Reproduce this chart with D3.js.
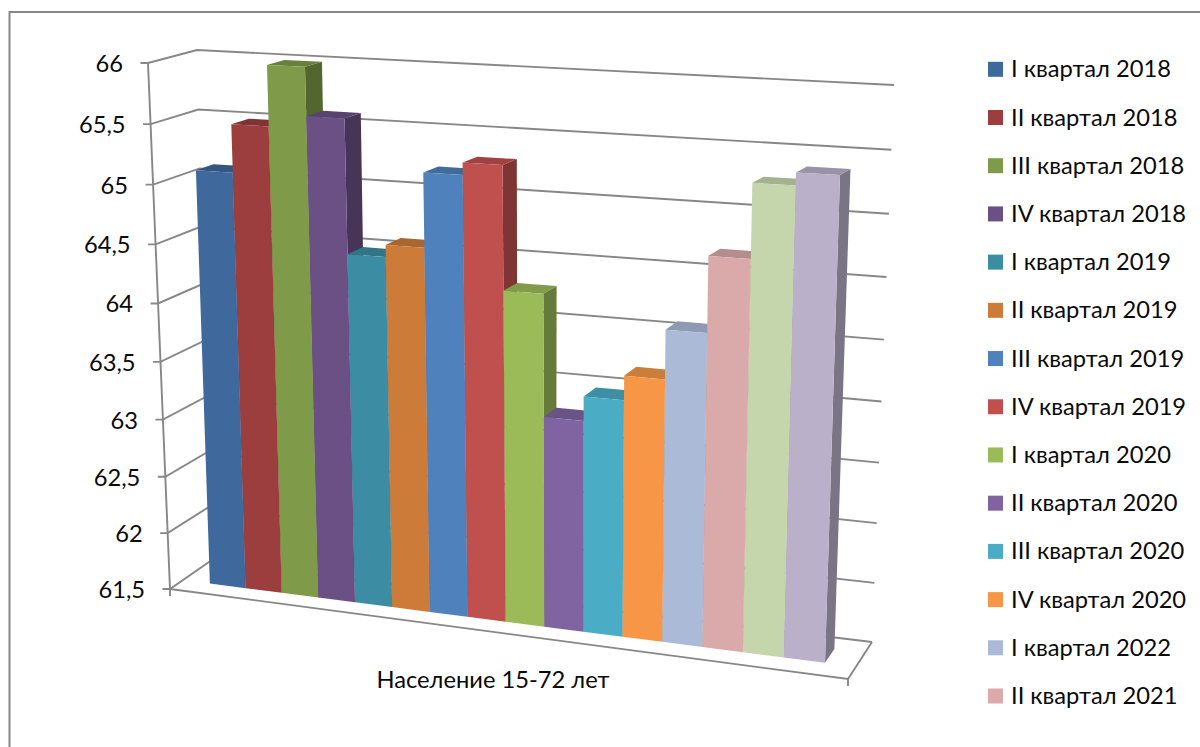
<!DOCTYPE html>
<html>
<head>
<meta charset="utf-8">
<script src="https://cdn.jsdelivr.net/npm/d3@7"></script>
<style>
	html, body { margin: 0; padding: 0; background: #fff; overflow: hidden; }
	text { font-family: Lato, "Open Sans", sans-serif; font-size: 23.7px; fill: #0a0a0a; }
</style>
</head>
<body>
<div id="chart"></div>
<script>
// values
const values = [65.09, 65.49, 65.99, 65.59, 64.48, 64.58, 65.19, 65.29, 64.28, 63.27, 63.47, 63.67, 64.07, 64.68, 65.27, 65.37];
const colors = ["#3F689C", "#9C3E3D", "#7F9A48", "#6A5084", "#3C8DA3", "#CC7B38", "#4F81BD", "#C0504D",
	"#9BBB59", "#8064A2", "#4BACC6", "#F79646", "#AABAD7", "#D9AAA9", "#C6D6AC", "#BAB0C9"];
// only 14 legend rows fit in the picture, the last two bars have none
const legendLabels = ["I квартал 2018", "II квартал 2018", "III квартал 2018", "IV квартал 2018",
	"I квартал 2019", "II квартал 2019", "III квартал 2019", "IV квартал 2019",
	"I квартал 2020", "II квартал 2020", "III квартал 2020", "IV квартал 2020",
	"I квартал 2022", "II квартал 2021"];
const valueTicks = [61.5, 62, 62.5, 63, 63.5, 64, 64.5, 65, 65.5, 66];
const categoryLabel = "Население 15-72 лет";

const width = 1200;
const height = 747;

// corners of the 3d box on screen, [x, y]
const box = {
	floorFrontLeft: [170, 589],
	floorFrontRight: [848, 679],
	floorBackLeft: [209, 562],
	floorBackRight: [872, 642],
	topFrontLeft: [148, 63],
	topFrontRight: [867, 97],
	topBackLeft: [197, 50],
	topBackRight: [894, 85]
};

const svg = d3.select("#chart").append("svg").attr("width", width).attr("height", height);

const valueScale = d3.scaleLinear().domain([61.5, 66]).range([0, 1]);
const barScale = d3.scaleBand().domain(d3.range(values.length)).range([0.0435, 0.9576]);
const depthScale = d3.scaleLinear().domain([0, 1]).range([0.33, 0.71]);

// foreshortening along an edge
const perspective = (k) => (t) => (t * (1 + k)) / (1 + t * k);
const persY = perspective(-0.05);

const mix = (a, b, t) => [a[0] + (b[0] - a[0]) * t, a[1] + (b[1] - a[1]) * t];

// x, y, z all 0..1
const project = (x, y, z) => {
	const py = persY(y);
	// the horizontal squeeze gets a bit stronger higher up
	const px = perspective(-0.08 - 0.019 * py)(x);
	const floorFront = mix(box.floorFrontLeft, box.floorFrontRight, px);
	const floorBack = mix(box.floorBackLeft, box.floorBackRight, px);
	const topFront = mix(box.topFrontLeft, box.topFrontRight, px);
	const topBack = mix(box.topBackLeft, box.topBackRight, px);
	return mix(mix(floorFront, floorBack, z), mix(topFront, topBack, z), py);
};

const line = d3.line();
const poly = d3.line().curve(d3.curveLinearClosed);
const gridColor = "#878787";

// chart frame, runs off the page on the right and bottom
svg.append("path")
	.attr("d", line([[width + 5, 12], [9.5, 12], [9.5, height + 5]]))
	.attr("fill", "none")
	.attr("stroke", gridColor)
	.attr("stroke-width", 2);

// walls
const grid = svg.append("g").attr("fill", "none").attr("stroke", gridColor).attr("stroke-width", 1.9);
valueTicks.forEach((v) => {
	const t = valueScale(v);
	const front = project(0, t, 0);
	grid.append("path").attr("d", line([[front[0] - 7.5, front[1]], front, project(0, t, 1), project(1, t, 1)]));
});
grid.append("path").attr("d", line([project(0, 0, 0), project(0, 1, 0)]));
grid.append("path").attr("d", line([project(0, 0, 0), project(1, 0, 0), project(1, 0, 1)]));
[0, 1].forEach((x) => {
	const p = project(x, 0, 0);
	grid.append("path").attr("d", line([p, [p[0], p[1] + 7]]));
});

// tick labels
svg.append("g")
	.selectAll("text")
	.data(valueTicks)
	.join("text")
	.attr("x", (v) => project(0, valueScale(v), 0)[0] - 25)
	.attr("y", (v) => project(0, valueScale(v), 0)[1] + 3)
	.attr("text-anchor", "end")
	.attr("dominant-baseline", "middle")
	.text((v) => String(v).replace(".", ","));

// bars, left to right so the next front covers the previous side
const shade = (c, k) => {
	const col = d3.rgb(c);
	return d3.rgb(col.r * k, col.g * k, col.b * k).formatHex();
};
const bars = svg.append("g")
	.selectAll("g")
	.data(values)
	.join("g");

const z0 = depthScale(0);
const z1 = depthScale(1);
const left = (i) => barScale(i);
const right = (i) => barScale(i) + barScale.bandwidth();

bars.append("path")
	.attr("fill", (d, i) => shade(colors[i], 0.66))
	.attr("d", (d, i) => {
		const t = valueScale(d);
		return poly([project(right(i), 0, z0), project(right(i), t, z0), project(right(i), t, z1), project(right(i), 0, z1)]);
	});
bars.append("path")
	.attr("fill", (d, i) => shade(colors[i], 0.83))
	.attr("d", (d, i) => {
		const t = valueScale(d);
		return poly([project(left(i), t, z0), project(right(i), t, z0), project(right(i), t, z1), project(left(i), t, z1)]);
	});
bars.append("path")
	.attr("fill", (d, i) => colors[i])
	.attr("d", (d, i) => {
		const t = valueScale(d);
		return poly([project(left(i), 0, z0), project(right(i), 0, z0), project(right(i), t, z0), project(left(i), t, z0)]);
	});

svg.append("text")
	.attr("x", 493)
	.attr("y", 682)
	.attr("text-anchor", "middle")
	.attr("dominant-baseline", "middle")
	.text(categoryLabel);

// legend
const legendY = d3.scalePoint().domain(d3.range(legendLabels.length)).range([69.3, 696]);
const legend = svg.append("g")
	.selectAll("g")
	.data(legendLabels)
	.join("g")
	.attr("transform", (d, i) => `translate(988,${legendY(i)})`);
legend.append("rect")
	.attr("y", -7.5)
	.attr("width", 15)
	.attr("height", 15)
	.attr("fill", (d, i) => colors[i]);
legend.append("text")
	.attr("x", 23)
	.attr("y", 2)
	.attr("dominant-baseline", "middle")
	.text((d) => d);
</script>
</body>
</html>
